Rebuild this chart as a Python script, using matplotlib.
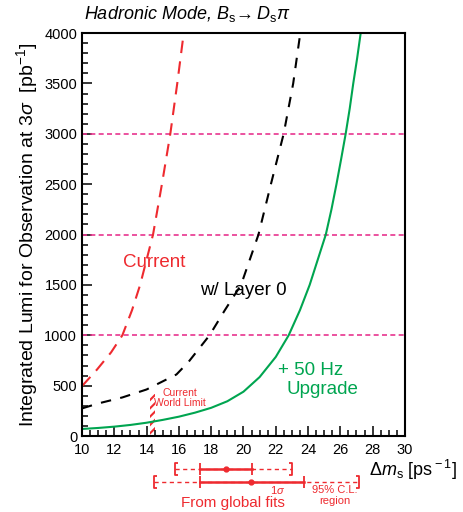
import matplotlib
matplotlib.use("Agg")
import matplotlib.pyplot as plt
from matplotlib.path import Path
from matplotlib.patches import Rectangle
from matplotlib.ticker import MultipleLocator

plt.rcParams['font.family'] = ['Liberation Sans', 'DejaVu Sans']
plt.rcParams['mathtext.fontset'] = 'custom'
plt.rcParams['mathtext.rm'] = 'Liberation Sans'
plt.rcParams['mathtext.it'] = 'Liberation Sans:italic'
plt.rcParams['mathtext.sf'] = 'Liberation Sans'
plt.rcParams['hatch.linewidth'] = 1.5

RED = '#ee2a2f'
GREEN = '#00a550'
PINK = '#e8358f'

# luminosity needed for a 3 sigma observation vs delta m_s
dm_current = [10.0, 10.93, 11.8, 12.5, 13.1, 13.6, 14.0, 14.4, 14.95, 15.47,
              15.9, 16.3]
lumi_current = [495, 660, 830, 1000, 1250, 1500, 1750, 2000, 2500, 3000,
                3500, 4000]

dm_layer0 = [10.0, 11.0, 12.5, 14.0, 15.85, 16.6, 17.9, 18.85, 19.85, 20.93,
             21.7, 22.49, 23.08, 23.52]
lumi_layer0 = [274, 323, 383, 462, 611, 736, 1000, 1250, 1500, 2000, 2500,
               3000, 3500, 4000]

dm_upgrade = [10.0, 11.0, 12.0, 13.0, 14.0, 15.0, 16.0, 17.0, 18.0, 19.0,
              20.0, 21.0, 22.0, 22.8, 23.5, 24.1, 24.6, 25.1, 25.45, 25.76,
              26.05, 26.33, 26.58, 26.8, 27.04, 27.26]
lumi_upgrade = [70, 80, 93, 110, 132, 160, 192, 232, 280, 345, 440, 585, 785,
                1000, 1250, 1500, 1750, 2000, 2250, 2500, 2750, 3000, 3250,
                3500, 3750, 4000]

ref_lumi = [1000, 2000, 3000]

# world limit band
limit_lo, limit_hi, limit_top = 14.2, 14.5, 420

# global fit results: centre, 1 sigma range, 95% CL range
fit_centre = [18.93, 20.47]
fit_1s_lo = [17.33, 17.33]
fit_1s_hi = [20.54, 23.77]
fit_95_lo = [15.74, 14.44]
fit_95_hi = [23.0, 27.16]

fig = plt.figure(figsize=(4.64, 5.12), dpi=100)
ax = fig.add_axes([0.1767, 0.1484, 0.696, 0.787])

for y in ref_lumi:
    ax.axhline(y, color=PINK, lw=1.2, dashes=(3, 2))

band = Rectangle((limit_lo, 0), limit_hi - limit_lo, limit_top,
                 facecolor='white', edgecolor=RED, hatch='////', lw=0,
                 zorder=1.5)
ax.add_patch(band)

ax.plot(dm_current, lumi_current, color=RED, lw=1.5, dashes=(6, 4))
ax.plot(dm_layer0, lumi_layer0, color='black', lw=1.5, dashes=(5, 4.5))
ax.plot(dm_upgrade, lumi_upgrade, color=GREEN, lw=1.5)

ax.set_xlim(10, 30)
ax.set_ylim(0, 4000)
ax.xaxis.set_major_locator(MultipleLocator(2))
ax.xaxis.set_minor_locator(MultipleLocator(0.5))
ax.yaxis.set_major_locator(MultipleLocator(500))
ax.yaxis.set_minor_locator(MultipleLocator(100))
ax.tick_params(which='both', direction='in', labelsize=10.5, width=1.1)
ax.tick_params(which='major', length=7)
ax.tick_params(which='minor', length=4)
ax.tick_params(axis='x', pad=5)
for s in ax.spines.values():
    s.set_linewidth(1.5)

ax.set_ylabel(r'Integrated Lumi for Observation at 3$\sigma$  [pb$^{-1}$]',
              fontsize=14, labelpad=3)

ax.text(0.005, 1.022, r'Hadronic Mode, $B_{\rm s}\!\rightarrow D_{\rm s}\pi$',
        transform=ax.transAxes, fontsize=13, style='italic', ha='left',
        va='bottom')

ax.text(14.45, 1720, 'Current', color=RED, fontsize=13.5, ha='center',
        va='center')
ax.text(20.0, 1445, 'w/ Layer 0', color='black', fontsize=13.5, ha='center',
        va='center')
ax.text(24.15, 650, '+ 50 Hz', color=GREEN, fontsize=13.5, ha='center',
        va='center')
ax.text(24.9, 465, 'Upgrade', color=GREEN, fontsize=13.5, ha='center',
        va='center')
ax.text(16.05, 375, 'Current\nWorld Limit', color=RED, fontsize=7.5,
        ha='center', va='center', linespacing=1.0)

fig.text(0.985, 0.083, r'$\Delta m_{\rm s}$ [ps$^{\rm -1}$]', fontsize=13,
         ha='right', va='center')

# global fit ranges below the axis
ax2 = fig.add_axes([0.1767, 0.0, 0.696, 0.111])
ax2.set_xlim(10, 30)
ax2.set_ylim(0, 1)
ax2.axis('off')

lbr = Path([(0.5, -1), (0, -1), (0, 1), (0.5, 1)],
           [Path.MOVETO, Path.LINETO, Path.LINETO, Path.LINETO])
rbr = Path([(-0.5, -1), (0, -1), (0, 1), (-0.5, 1)],
           [Path.MOVETO, Path.LINETO, Path.LINETO, Path.LINETO])

rows = [0.75, 0.53]
for i, yr in enumerate(rows):
    ax2.plot([fit_95_lo[i], fit_95_hi[i]], [yr, yr], color=RED, lw=1,
             dashes=(3, 2.5))
    ax2.plot([fit_1s_lo[i], fit_1s_hi[i]], [yr, yr], color=RED, lw=1.8)
    ax2.plot([fit_1s_lo[i], fit_1s_hi[i]], [yr, yr], ls='none', marker='|',
             ms=9, mew=1.3, color=RED)
    ax2.plot([fit_centre[i]], [yr], ls='none', marker='o', ms=3.5, color=RED)
    ax2.plot([fit_95_lo[i]], [yr], ls='none', marker=lbr, ms=8, mew=1.3,
             mfc='none', color=RED)
    ax2.plot([fit_95_hi[i]], [yr], ls='none', marker=rbr, ms=8, mew=1.3,
             mfc='none', color=RED)

ax2.text(22.1, 0.38, r'1$\sigma$', color=RED, fontsize=8, ha='center',
         va='center')
ax2.text(25.65, 0.29, '95% C.L.\nregion', color=RED, fontsize=8, ha='center',
         va='center', linespacing=1.15)
ax2.text(19.35, 0.16, 'From global fits', color=RED, fontsize=11,
         ha='center', va='center')

fig.savefig('out.png', dpi=100)
